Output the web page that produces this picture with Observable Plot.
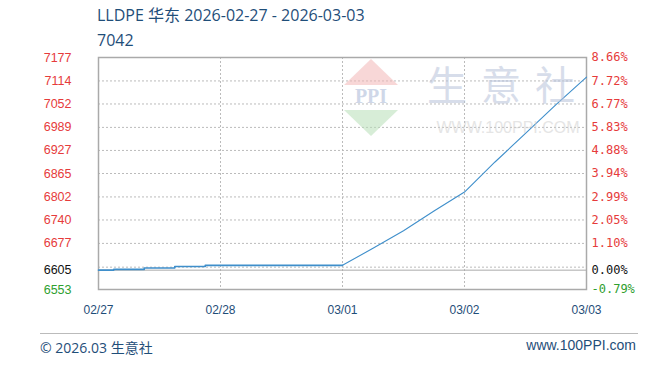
<!DOCTYPE html>
<html><head><meta charset="utf-8">
<script src="https://cdn.jsdelivr.net/npm/d3@7"></script>
<script src="https://cdn.jsdelivr.net/npm/@observablehq/plot@0.6"></script>
<style>
body{margin:0;background:#fff;width:650px;height:375px;overflow:hidden;position:relative;font-family:"Open Sans","Noto Sans CJK SC",sans-serif;}
#title{position:absolute;left:97px;top:3px;color:#1f4e79;font-size:16px;line-height:25px;}
#chart{position:absolute;left:0;top:50px;}
#foot{position:absolute;left:40px;top:333px;width:598px;border-top:1px solid #bbb;color:#1f4e79;font-size:14px;}
#foot .l{position:absolute;left:0;top:3px;}
#foot .r{position:absolute;right:2px;top:3px;font-family:"Liberation Sans",sans-serif;}
#wm{position:absolute;left:0;top:0;pointer-events:none;}
</style></head><body>
<div id="title">LLDPE 华东 2026-02-27 - 2026-03-03<br>7042</div>
<div id="chart"></div>
<div id="foot"><span class="l">© 2026.03 生意社</span><span class="r">www.100PPI.com</span></div>
<script>
// data
const times = ["2026-02-27T00:00","2026-02-27T03:00","2026-02-27T09:00","2026-02-27T15:00","2026-02-27T21:00",
  "2026-03-01T00:00","2026-03-01T06:00","2026-03-01T12:00","2026-03-01T18:00",
  "2026-03-02T00:00","2026-03-02T06:00","2026-03-02T12:00","2026-03-02T18:00","2026-03-03T00:00"];
const prices = [6605,6607,6611,6615,6618, 6618,6664,6711,6764, 6815,6896,6973,7050,7124];
const leftTicks = [6553,6605,6677,6740,6802,6865,6927,6989,7052,7114,7177];
const rightLabels = ["-0.79%","0.00%","1.10%","2.05%","2.99%","3.94%","4.88%","5.83%","6.77%","7.72%","8.66%"];
const dayTicks = ["2026-02-27","2026-02-28","2026-03-01","2026-03-02","2026-03-03"];
const basePrice = 6605;

const parse = s => new Date(s + (s.length > 10 ? ":00Z" : "T00:00:00Z"));
const rows = times.map((t, i) => ({t: parse(t), v: prices[i]}));
const days = dayTicks.map(parse);
const tickColor = v => v === basePrice ? "#111" : (v < basePrice ? "#2fa02f" : "#e63b3b");
const rlab = new Map(leftTicks.map((v, i) => [v, rightLabels[i]]));
const flat = rows.slice(0, 6), rise = rows.slice(5);

const plot = Plot.plot({
  width: 650, height: 275,
  marginLeft: 98, marginRight: 64, marginTop: 7, marginBottom: 36,
  x: {type: "utc", domain: [days[0], days[days.length-1]], label: null},
  y: {domain: [6553, 7177], label: null},
  color: {type: "identity"},
  marks: [
    Plot.gridY(leftTicks.filter(v => v !== 6553 && v !== 7177 && v !== basePrice), {stroke: "#bbb", strokeOpacity: 1, strokeDasharray: "2,2"}),
    Plot.gridY([basePrice], {stroke: "#bbb", strokeOpacity: 1, strokeDasharray: "2,2", dy: -3}),
    Plot.gridX(days.slice(1, -1), {stroke: "#bbb", strokeOpacity: 1, strokeDasharray: "2,2"}),
    Plot.ruleY([basePrice], {stroke: "#aaa", strokeWidth: 1}),
    Plot.frame({stroke: "#aaa", strokeWidth: 1.5}),
    Plot.line(flat, {x: "t", y: "v", stroke: "#3f8fcb", strokeWidth: 1.6, curve: "step-after"}),
    Plot.line(rise, {x: "t", y: "v", stroke: "#3f8fcb", strokeWidth: 1.1}),
    Plot.axisY(leftTicks, {anchor: "left", label: null, tickSize: 0, tickPadding: 27, fill: d => tickColor(d),
      tickFormat: d => String(d), fontSize: 12.5, fontFamily: "Liberation Sans, sans-serif"}),
    Plot.axisY(leftTicks, {anchor: "right", label: null, tickSize: 0, tickPadding: 5, fill: d => tickColor(d),
      tickFormat: d => rlab.get(d), fontSize: 12, fontFamily: "DejaVu Sans Mono, monospace"}),
    Plot.axisX(days, {label: null, tickSize: 0, tickPadding: 16, tickFormat: d3.utcFormat("%m/%d"),
      fill: "#1f4e79", fontSize: 12, fontFamily: "Liberation Sans, sans-serif"})
  ]
});
document.getElementById("chart").appendChild(plot);

// watermark overlay (decoration)
const wm = document.createElementNS("http://www.w3.org/2000/svg", "svg");
wm.setAttribute("id", "wm"); wm.setAttribute("width", 650); wm.setAttribute("height", 375);
wm.innerHTML = `
<g opacity="0.55">
<polygon points="344,85 371,59 398,85" fill="#f4b8b8"/>
<text x="371" y="103" text-anchor="middle" font-family="Liberation Serif,serif" font-weight="bold" font-size="20" fill="#a9b8d6">PPI</text>
<polygon points="344,110 398,110 371,136" fill="#b8e0b8"/>
<text x="508" y="100" text-anchor="middle" font-family="Noto Sans CJK SC" font-size="40" letter-spacing="14" fill="#b8c3da">生意社</text>
<text x="508" y="133" text-anchor="middle" font-family="Liberation Sans,sans-serif" font-size="16" fill="#d0d0d0">WWW.100PPI.COM</text>
</g>`;
document.body.appendChild(wm);
</script>
</body></html>
